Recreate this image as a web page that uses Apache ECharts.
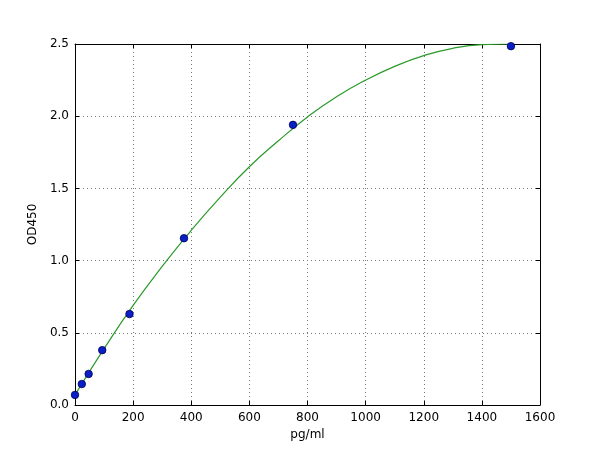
<!DOCTYPE html>
<html><head><meta charset="utf-8">
<script src="https://cdn.jsdelivr.net/npm/echarts@6/dist/echarts.min.js"></script>
<style>html,body{margin:0;padding:0;background:#fff}#c{width:600px;height:450px}</style>
</head><body><div id="c"></div>
<script>
// Measured standards (pg/ml, OD450)
var concentrations = [0, 23.4, 46.9, 93.75, 187.5, 375, 750, 1500];
var odValues = [0.07, 0.145, 0.215, 0.38, 0.63, 1.155, 1.94, 2.485];
// Fitted curve
var curveX = [0, 100, 200, 300, 400, 500, 600, 700, 800, 900, 1000, 1100, 1200, 1300, 1400, 1500];
var curveY = [0.07, 0.39, 0.69, 0.96, 1.21, 1.44, 1.65, 1.83, 1.995, 2.135, 2.25, 2.345, 2.42, 2.47, 2.495, 2.5];
var xTicks = [0, 200, 400, 600, 800, 1000, 1200, 1400, 1600];
var yTicks = [0.0, 0.5, 1.0, 1.5, 2.0, 2.5];

var font = 'DejaVu Sans';
var chart = echarts.init(document.getElementById('c'));
var axisLine = {show: true, onZero: false, lineStyle: {color: '#000', width: 1}};
var tick = {show: true, inside: true, length: 4, lineStyle: {color: '#000'}};
var grid = {show: true, lineStyle: {color: '#777', type: [1, 3], width: 1}};
chart.setOption({
  animation: false,
  backgroundColor: '#fff',
  grid: {left: 75, right: 60, top: 44, bottom: 45, show: false},
  xAxis: [{
    type: 'value', min: 0, max: 1600, interval: 200, position: 'bottom',
    name: 'pg/ml', nameLocation: 'middle', nameGap: 22,
    nameTextStyle: {fontFamily: font, fontSize: 12, color: '#000'},
    axisLine: axisLine, axisTick: tick, splitLine: grid,
    axisLabel: {fontFamily: font, fontSize: 12, color: '#000', margin: 7,
      formatter: function (v) { return xTicks.indexOf(v) >= 0 ? String(v) : ''; }}
  }, {
    type: 'value', min: 0, max: 1600, interval: 200, position: 'top',
    axisLine: axisLine, axisTick: tick, splitLine: {show: false}, axisLabel: {show: false}
  }],
  yAxis: [{
    type: 'value', min: 0, max: 2.5, interval: 0.5, position: 'left',
    name: 'OD450', nameLocation: 'middle', nameGap: 36,
    nameTextStyle: {fontFamily: font, fontSize: 12, color: '#000'},
    axisLine: axisLine, axisTick: tick, splitLine: grid,
    axisLabel: {fontFamily: font, fontSize: 12, color: '#000', margin: 6,
      formatter: function (v) { return v.toFixed(1); }}
  }, {
    type: 'value', min: 0, max: 2.5, interval: 0.5, position: 'right',
    axisLine: axisLine, axisTick: tick, splitLine: {show: false}, axisLabel: {show: false}
  }],
  series: [{
    type: 'line', smooth: true, symbol: 'none', clip: true,
    data: curveX.map(function (x, i) { return [x, curveY[i]]; }),
    lineStyle: {color: '#2a9a2a', width: 1.2}, z: 2
  }, {
    type: 'scatter', symbolSize: 7.5,
    data: concentrations.map(function (x, i) { return [x, odValues[i]]; }),
    itemStyle: {color: '#0a1fc8', borderColor: '#000050', borderWidth: 0.8, opacity: 1}, z: 3
  }]
});
</script></body></html>
